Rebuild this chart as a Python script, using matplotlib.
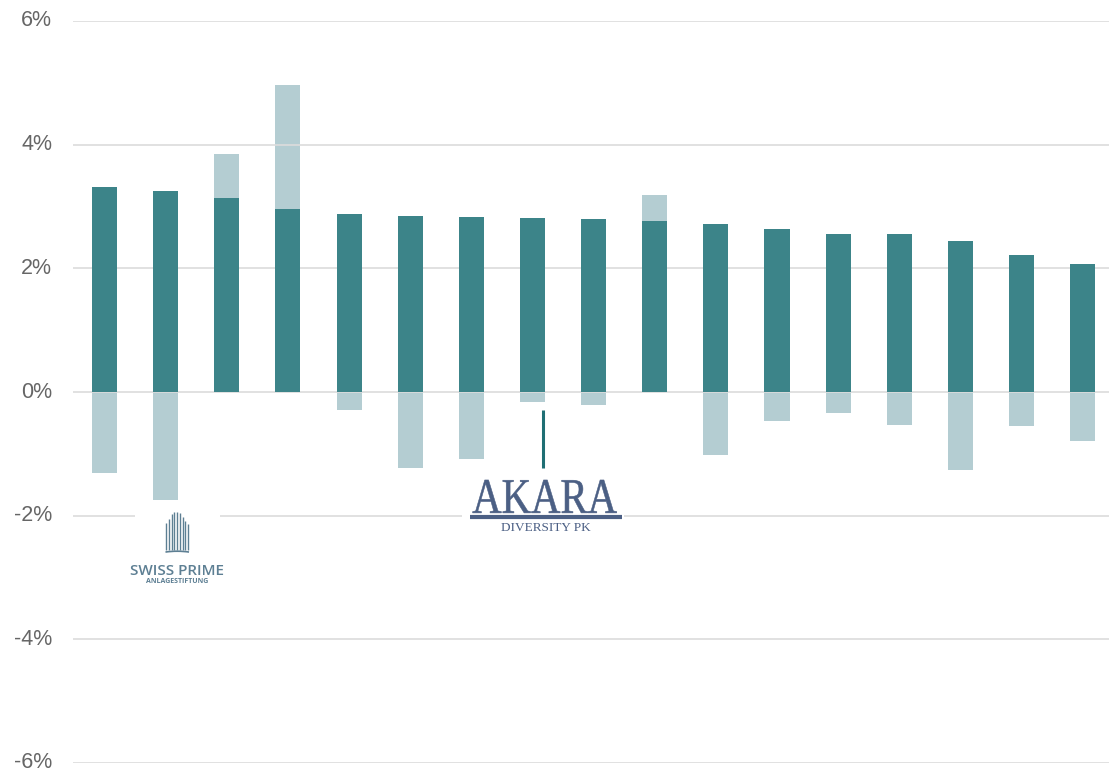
import matplotlib
matplotlib.use("Agg")
import matplotlib.pyplot as plt
from matplotlib.patches import Rectangle, Arc, PathPatch
from matplotlib.textpath import TextPath
from matplotlib.font_manager import FontProperties
from matplotlib.transforms import Affine2D
import numpy as np

# Annualised returns per fund (in %)
funds = [f"Fund {i}" for i in range(1, 18)]
main_return = [3.32, 3.25, 3.14, 2.96, 2.88, 2.85, 2.83, 2.81, 2.80, 2.77,
               2.72, 2.64, 2.56, 2.56, 2.44, 2.22, 2.07]
range_return = [-1.31, -1.75, 3.85, 4.97, -0.29, -1.23, -1.08, -0.16, -0.21, 3.19,
                -1.02, -0.47, -0.34, -0.53, -1.26, -0.55, -0.79]
y_ticks = [-6, -4, -2, 0, 2, 4, 6]
y_tick_labels = ["-6%", "-4%", "-2%", "0%", "2%", "4%", "6%"]

DARK = "#3c8489"
LIGHT = "#b4cdd2"
GRID = "#dcdcdc"
LOGO_BLUE = "#4b5f84"
SP_BLUE = "#5d7f93"

fig = plt.figure(figsize=(11.09, 7.72), dpi=100)
ax = fig.add_axes([73 / 1109, 9 / 772, 1 - 73 / 1109, 742 / 772])

x = np.arange(len(funds))
ax.bar(x, range_return, width=0.41, color=LIGHT, zorder=1)
ax.bar(x, main_return, width=0.41, color=DARK, zorder=3)

ax.set_ylim(-6, 6)
ax.set_xlim(-0.515, 16.43)
ax.set_yticks(y_ticks)
ax.set_yticklabels(y_tick_labels)
ax.set_xticks([])
for s in ax.spines.values():
    s.set_visible(False)
ax.tick_params(axis="y", length=0, pad=15, labelsize=15.5, labelcolor="#666666")
for lab in ax.get_yticklabels():
    lab.set_fontfamily("Liberation Sans")
    lab.set_verticalalignment("center")
for t in y_ticks:
    ax.axhline(t, color=GRID, lw=1.2, zorder=2)

# Swiss Prime Anlagestiftung badge below fund 2
ax.add_patch(Rectangle((0.50, -3.20), 1.39, 1.37, facecolor="white",
                       edgecolor="none", zorder=4))
bar_x = np.linspace(1.01, 1.37, 9)
bar_top = [-2.12, -2.05, -1.98, -1.94, -1.94, -1.96, -2.02, -2.08, -2.14]
for bx, bt in zip(bar_x, bar_top):
    ax.plot([bx, bx], [bt, -2.56], color=SP_BLUE, lw=1.0, zorder=5,
            solid_capstyle="butt")
ax.add_patch(Arc((1.19, -2.75), 1.0, 0.35, theta1=40, theta2=140,
                 color=SP_BLUE, lw=1.2, zorder=5))
ax.text(1.19, -2.90, "SWISS PRIME", ha="center", va="center", fontsize=11,
        color=SP_BLUE, family="Open Sans", weight="semibold", zorder=5)
ax.text(1.19, -3.06, "ANLAGESTIFTUNG", ha="center", va="center", fontsize=5,
        color=SP_BLUE, family="Open Sans", weight="bold", zorder=5)

# Akara Diversity PK marker below fund 8
ax.plot([7.18, 7.18], [-0.29, -1.23], color="#1f6f74", lw=2.2, zorder=5,
        solid_capstyle="butt")
ax.add_patch(Rectangle((5.85, -2.33), 2.65, 0.45, facecolor="white",
                       edgecolor="none", zorder=4))
akara_path = TextPath((0, 0), "AKARA", size=10,
                      prop=FontProperties(family="Liberation Serif"))
ext = akara_path.get_extents()
box_w, box_h = 144 / 61.1, 33 / 61.83
sx = box_w / ext.width
sy = box_h / 6.62
x0 = 7.20 - box_w / 2
akara_tr = Affine2D().translate(-ext.x0, 0).scale(sx, sy).translate(x0, -1.955)
ax.add_patch(PathPatch(akara_path, transform=akara_tr + ax.transData,
                       facecolor=LOGO_BLUE, edgecolor=LOGO_BLUE, lw=0.4,
                       zorder=5))
ax.plot([5.98, 8.46], [-2.015, -2.015], color=LOGO_BLUE, lw=3.0, zorder=5,
        solid_capstyle="butt")
ax.text(7.22, -2.205, "DIVERSITY PK", ha="center", va="center", fontsize=9.5,
        color=LOGO_BLUE, family="Liberation Serif", zorder=5)

fig.savefig("out.png", dpi=100)
